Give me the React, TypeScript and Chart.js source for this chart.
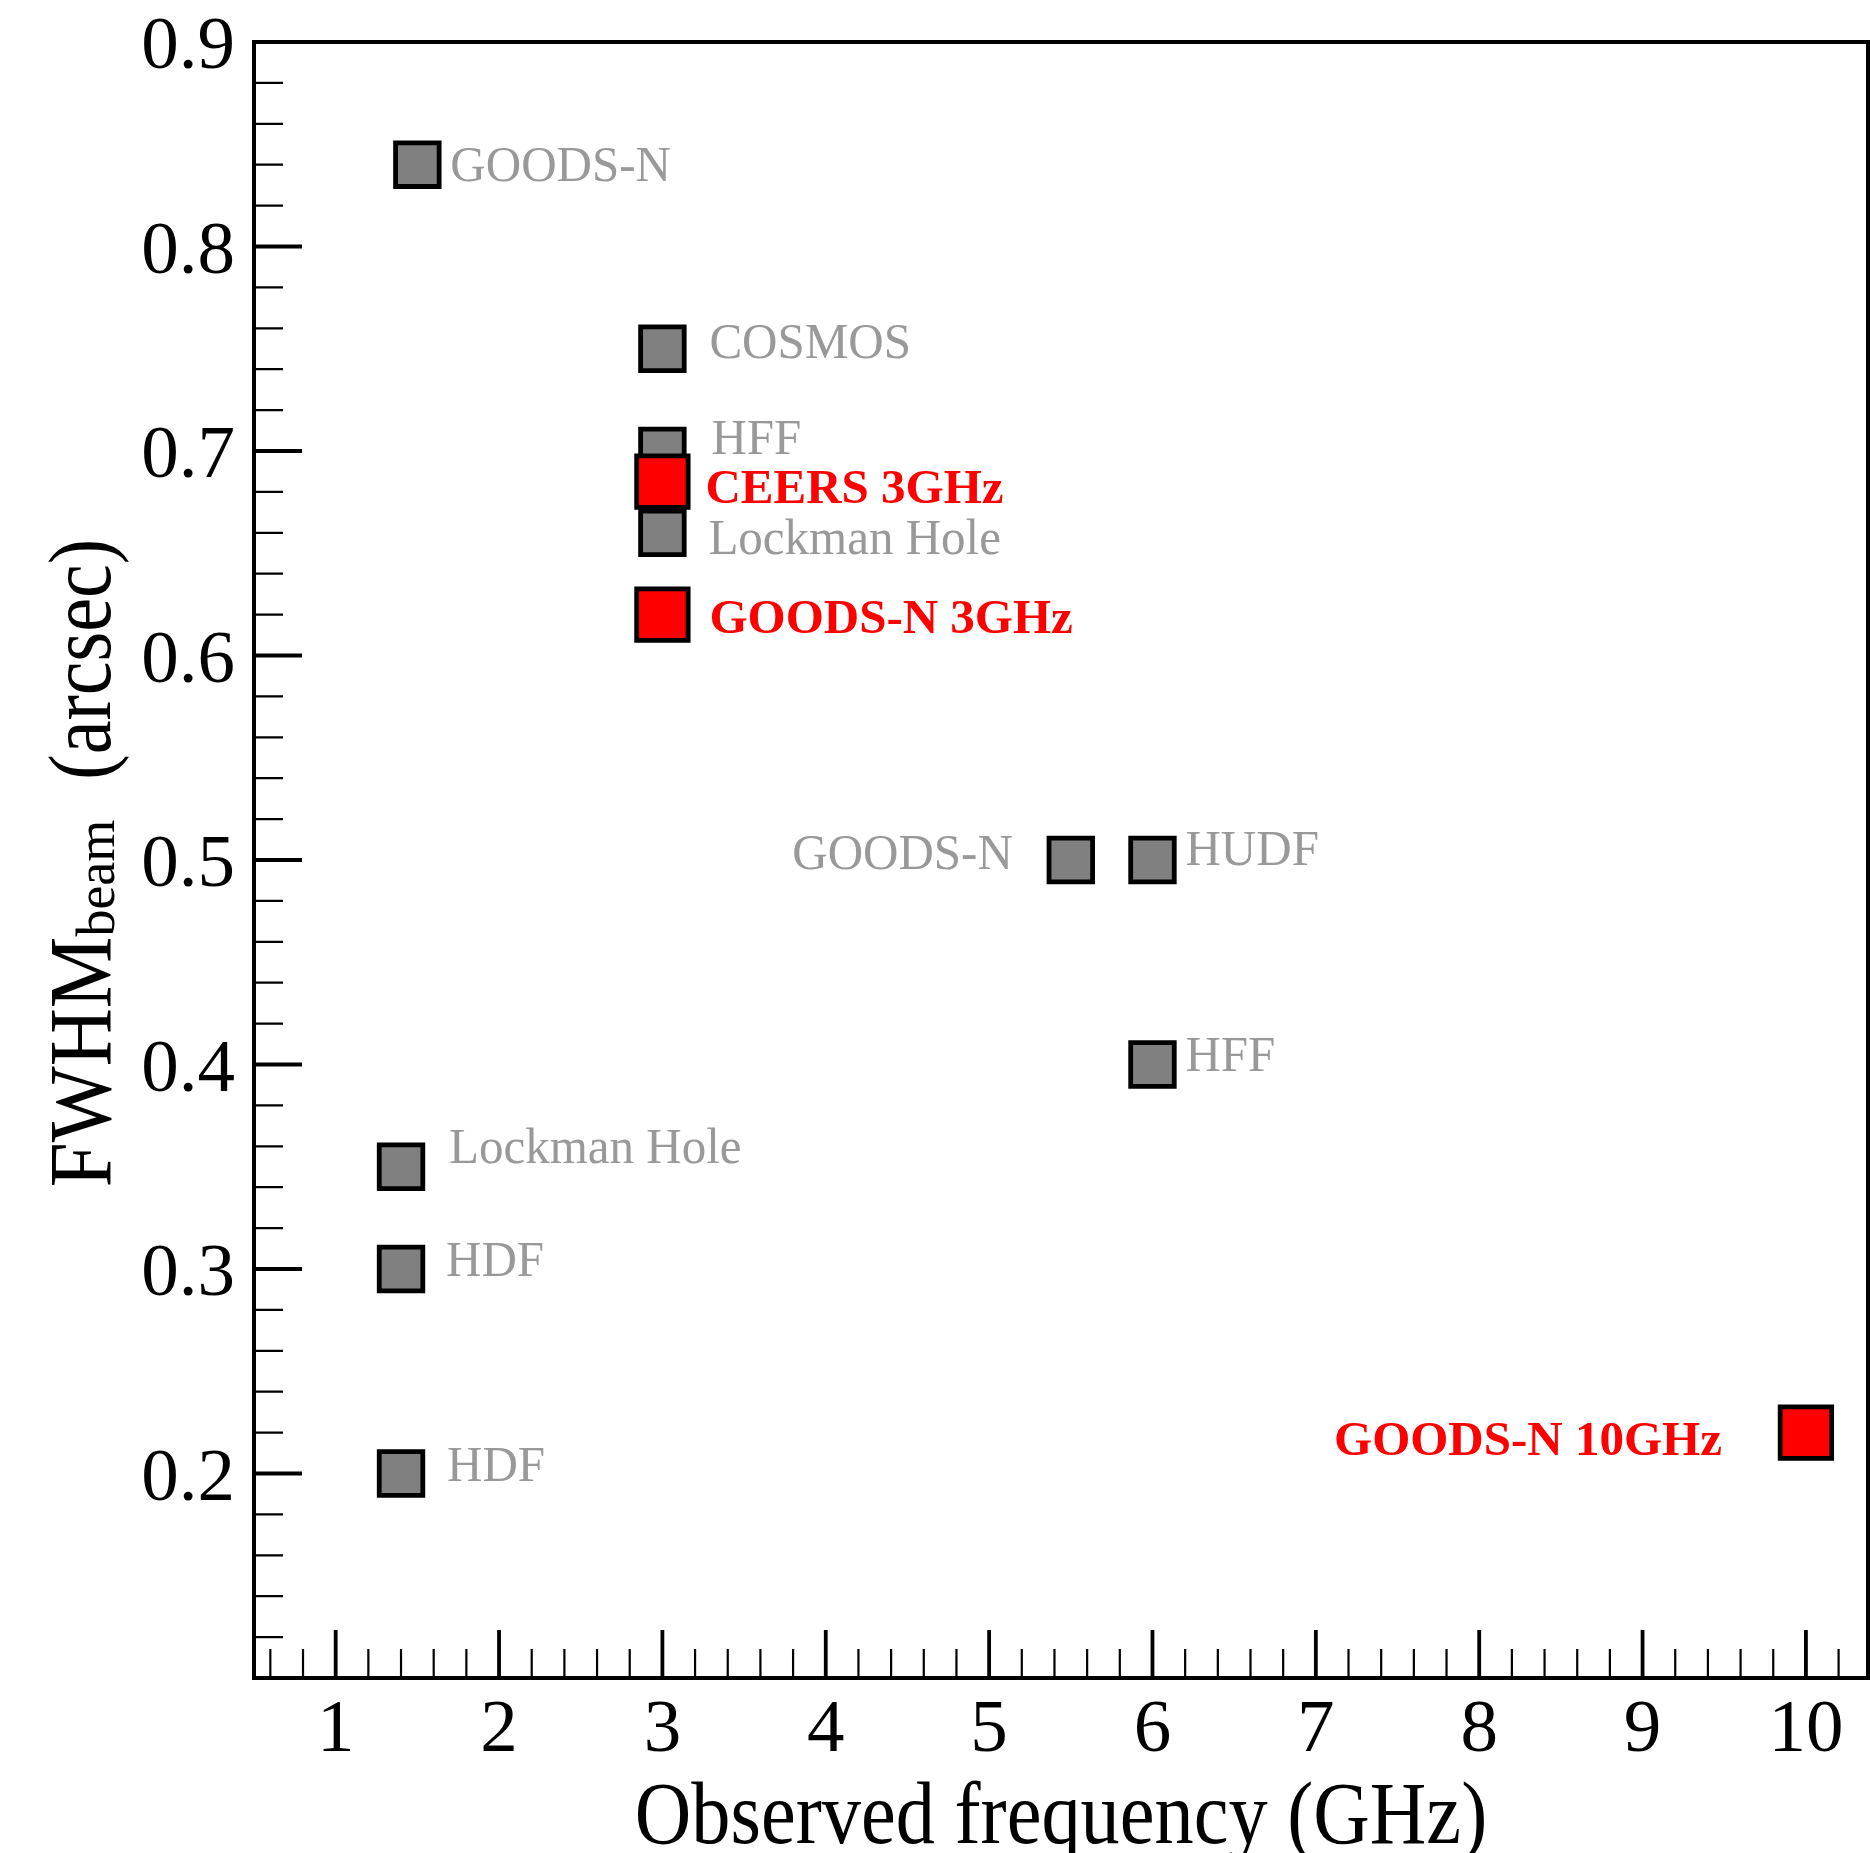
import React, { useEffect, useRef } from 'react';
import { Chart, registerables } from 'chart.js';

Chart.register(...registerables);

// Radio surveys compared with this work (grey) and the new maps (red)
const GRAY_FIELDS = ['GOODS-N', 'COSMOS', 'HFF', 'Lockman Hole', 'GOODS-N', 'HUDF', 'HFF', 'Lockman Hole', 'HDF', 'HDF'];
const GRAY_FREQ_GHZ = [1.5, 3, 3, 3, 5.5, 6, 6, 1.4, 1.4, 1.4];
const GRAY_FWHM = [0.84, 0.75, 0.7, 0.66, 0.5, 0.5, 0.4, 0.35, 0.3, 0.2];

const RED_FIELDS = ['CEERS 3GHz', 'GOODS-N 3GHz', 'GOODS-N 10GHz'];
const RED_FREQ_GHZ = [3, 3, 10];
const RED_FWHM = [0.685, 0.62, 0.22];

const X_TICKS = [1, 2, 3, 4, 5, 6, 7, 8, 9, 10];
const Y_TICKS = [0.2, 0.3, 0.4, 0.5, 0.6, 0.7, 0.8, 0.9];
const X_TICK_LABELS = X_TICKS.map((v) => String(v));
const Y_TICK_LABELS = Y_TICKS.map((v) => v.toFixed(1));

// Where each field name sits relative to its marker (pixels, baseline anchor)
type Placement = { dx: number; dy: number; align: CanvasTextAlign };
const GRAY_LABEL_PLACEMENT: Placement[] = [
  { dx: 33, dy: 16, align: 'left' },
  { dx: 47, dy: 9, align: 'left' },
  { dx: 49, dy: 3, align: 'left' },
  { dx: 46, dy: 21, align: 'left' },
  { dx: -58, dy: 9, align: 'right' },
  { dx: 33, dy: 5, align: 'left' },
  { dx: 33, dy: 6, align: 'left' },
  { dx: 48, dy: -4, align: 'left' },
  { dx: 45, dy: 7, align: 'left' },
  { dx: 46, dy: 7, align: 'left' },
];
const RED_LABEL_PLACEMENT: Placement[] = [
  { dx: 43, dy: 21, align: 'left' },
  { dx: 47, dy: 18, align: 'left' },
  { dx: -84, dy: 22, align: 'right' },
];

const SERIF = '"Liberation Serif", "Times New Roman", serif';
const GRAY_TEXT = '#999999';
const RED = '#ff0000';

function drawText(
  ctx: CanvasRenderingContext2D,
  text: string,
  x: number,
  y: number,
  font: string,
  color: string,
  align: CanvasTextAlign,
  sx: number
) {
  ctx.save();
  ctx.font = font;
  ctx.fillStyle = color;
  ctx.textAlign = align;
  ctx.textBaseline = 'alphabetic';
  ctx.translate(x, y);
  ctx.scale(sx, 1);
  ctx.fillText(text, 0, 0);
  ctx.restore();
}

// Axis sizes are fixed so the plotting frame stays where it belongs
function fixAxis(size: number, horizontal: boolean) {
  return (s: any) => {
    if (horizontal) s.height = size;
    else s.width = size;
    s.paddingLeft = 0;
    s.paddingRight = 0;
    s.paddingTop = 0;
    s.paddingBottom = 0;
  };
}

// Frame with inward major/minor ticks, tick labels, axis titles and point annotations
const decorations = {
  id: 'decorations',
  afterDatasetsDraw(chart: any) {
    const { ctx, chartArea: a, scales } = chart;
    const xs = scales.x;
    const ys = scales.y;
    ctx.save();
    ctx.strokeStyle = '#000';
    ctx.lineCap = 'butt';

    // minor ticks
    ctx.lineWidth = 2.2;
    ctx.beginPath();
    for (let i = 3; i <= 51; i++) {
      const v = i / 5;
      if (i % 5 === 0) continue;
      const px = xs.getPixelForValue(v);
      ctx.moveTo(px, a.bottom);
      ctx.lineTo(px, a.bottom - 29);
    }
    for (let i = 6; i <= 44; i++) {
      if (i % 5 === 0) continue;
      const py = ys.getPixelForValue(i / 50);
      ctx.moveTo(a.left, py);
      ctx.lineTo(a.left + 29, py);
    }
    ctx.stroke();

    // major ticks
    ctx.lineWidth = 3.8;
    ctx.beginPath();
    X_TICKS.forEach((v) => {
      const px = xs.getPixelForValue(v);
      ctx.moveTo(px, a.bottom);
      ctx.lineTo(px, a.bottom - 48);
    });
    Y_TICKS.forEach((v) => {
      const py = ys.getPixelForValue(v);
      ctx.moveTo(a.left, py);
      ctx.lineTo(a.left + 48, py);
    });
    ctx.stroke();

    // frame
    ctx.lineWidth = 4;
    ctx.lineJoin = 'miter';
    ctx.strokeRect(a.left, a.top, a.right - a.left, a.bottom - a.top);

    // tick labels
    const tickFont = `75px ${SERIF}`;
    X_TICKS.forEach((v, i) => {
      drawText(ctx, X_TICK_LABELS[i], xs.getPixelForValue(v), a.bottom + 73, tickFont, '#000', 'center', 1);
    });
    Y_TICKS.forEach((v, i) => {
      drawText(ctx, Y_TICK_LABELS[i], a.left - 19, ys.getPixelForValue(v) + 26, tickFont, '#000', 'right', 1);
    });

    // point annotations
    const grayFont = `50px ${SERIF}`;
    const redFont = `bold 49px ${SERIF}`;
    GRAY_FIELDS.forEach((name, i) => {
      const p = GRAY_LABEL_PLACEMENT[i];
      const px = xs.getPixelForValue(GRAY_FREQ_GHZ[i]);
      const py = ys.getPixelForValue(GRAY_FWHM[i]);
      drawText(ctx, name, px + p.dx, py + p.dy, grayFont, GRAY_TEXT, p.align, 0.98);
    });
    RED_FIELDS.forEach((name, i) => {
      const p = RED_LABEL_PLACEMENT[i];
      const px = xs.getPixelForValue(RED_FREQ_GHZ[i]);
      const py = ys.getPixelForValue(RED_FWHM[i]);
      drawText(ctx, name, px + p.dx, py + p.dy, redFont, RED, p.align, 1.0);
    });

    // x-axis title
    const cx = (a.left + a.right) / 2;
    drawText(ctx, 'Observed frequency (GHz)', cx, 1843, `88px ${SERIF}`, '#000', 'center', 0.89);

    // y-axis title with subscript, reading bottom to top
    const cy = (a.top + a.bottom) / 2;
    const segs = [
      { text: 'FWHM', font: `88px ${SERIF}`, sx: 0.915, shift: 0, gap: 0 },
      { text: 'beam', font: `54px ${SERIF}`, sx: 1, shift: 4, gap: 40 },
      { text: '(arcsec)', font: `88px ${SERIF}`, sx: 0.865, shift: 0, gap: 0 },
    ];
    const widths = segs.map((s) => {
      ctx.font = s.font;
      return ctx.measureText(s.text).width * s.sx;
    });
    const total = widths.reduce((t, w) => t + w, 0) + segs.reduce((t, s) => t + s.gap, 0);
    ctx.save();
    ctx.translate(110, cy + 3);
    ctx.rotate(-Math.PI / 2);
    let pos = -total / 2;
    segs.forEach((s, i) => {
      drawText(ctx, s.text, pos, s.shift, s.font, '#000', 'left', s.sx);
      pos += widths[i] + s.gap;
    });
    ctx.restore();

    ctx.restore();
  },
};

export default function App() {
  const canvasRef = useRef<HTMLCanvasElement | null>(null);

  useEffect(() => {
    const canvas = canvasRef.current;
    if (!canvas) return;
    const chart = new Chart(canvas, {
      type: 'scatter',
      data: {
        datasets: [
          {
            label: 'Previous surveys',
            data: GRAY_FREQ_GHZ.map((f, i) => ({ x: f, y: GRAY_FWHM[i] })),
            pointStyle: 'rect',
            pointRadius: 30.8,
            pointHoverRadius: 30.8,
            backgroundColor: '#808080',
            borderColor: '#000000',
            borderWidth: 4.8,
            order: 1,
          },
          {
            label: 'This work',
            data: RED_FREQ_GHZ.map((f, i) => ({ x: f, y: RED_FWHM[i] })),
            pointStyle: 'rect',
            pointRadius: 36.4,
            pointHoverRadius: 36.4,
            backgroundColor: RED,
            borderColor: '#000000',
            borderWidth: 4.8,
            order: 0,
          },
        ],
      },
      options: {
        responsive: false,
        animation: false,
        events: [],
        layout: { autoPadding: false, padding: { top: 42, right: 2, left: 0, bottom: 0 } },
        plugins: { legend: { display: false }, tooltip: { enabled: false } },
        scales: {
          x: {
            type: 'linear',
            min: 0.5,
            max: 10.38,
            afterBuildTicks: (s: any) => {
              s.ticks = X_TICKS.map((v) => ({ value: v }));
            },
            afterFit: fixAxis(175, true),
            grid: { display: false, drawTicks: false },
            border: { display: false },
            ticks: { display: false },
          },
          y: {
            type: 'linear',
            min: 0.1,
            max: 0.9,
            afterBuildTicks: (s: any) => {
              s.ticks = Y_TICKS.map((v) => ({ value: v }));
            },
            afterFit: fixAxis(254, false),
            grid: { display: false, drawTicks: false },
            border: { display: false },
            ticks: { display: false },
          },
        },
      },
      plugins: [decorations],
    });
    return () => chart.destroy();
  }, []);

  return (
    <div style={{ position: 'absolute', left: 0, top: 0, width: 1870, height: 1853, background: '#fff' }}>
      <canvas ref={canvasRef} width={1870} height={1853} style={{ display: 'block' }} />
    </div>
  );
}
